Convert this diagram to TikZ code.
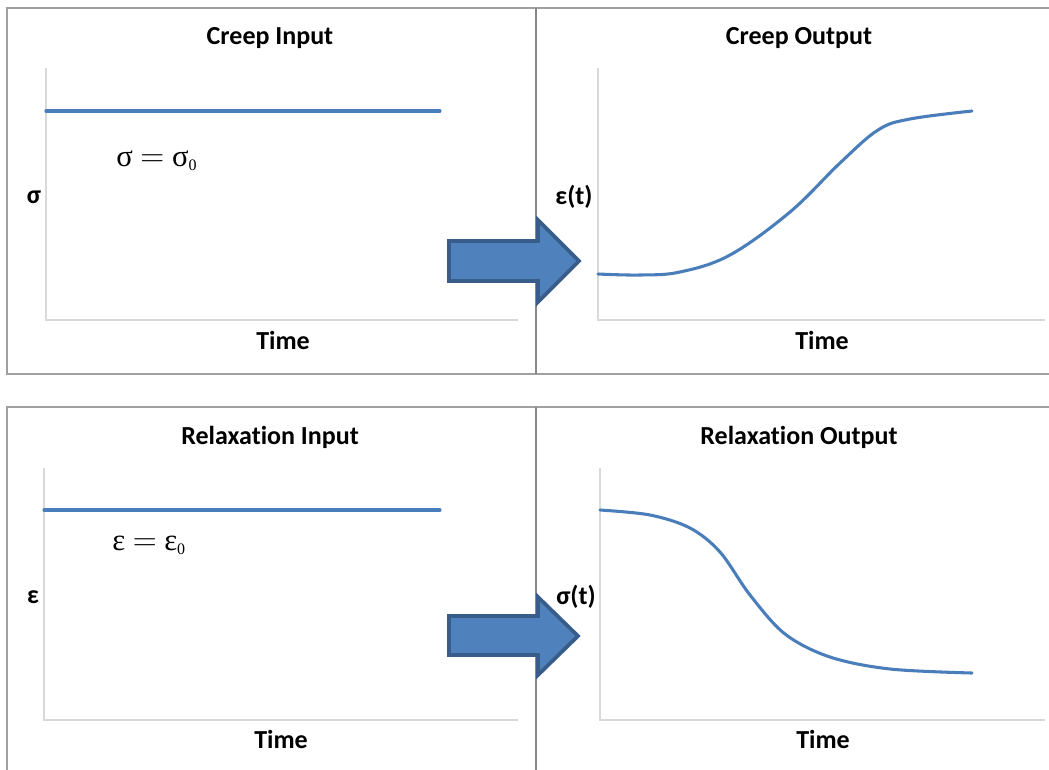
\documentclass[tikz,border=0pt]{standalone}
\usepackage{fontspec}
\setmainfont{Carlito}[Ligatures=NoCommon]
\newfontfamily\eqfont{Liberation Serif}
\definecolor{lineblue}{HTML}{4A7EBB}
\definecolor{arrowfill}{HTML}{4F81BD}
\definecolor{arrowline}{HTML}{385D8A}
\definecolor{panelgray}{HTML}{A0A0A0}
\definecolor{axisgray}{HTML}{D9D9D9}
\begin{document}
\begin{tikzpicture}[x=0.75pt,y=-0.75pt,
  panel/.style={draw=panelgray, line width=1.3pt},
  divider/.style={draw=panelgray!85!black, line width=2pt},
  axisline/.style={draw=axisgray, line width=1.2pt},
  curve/.style={draw=lineblue, line width=2.3pt, line cap=round, line join=round},
  titletext/.style={font=\fontsize{19.5}{23}\selectfont\bfseries, anchor=base, inner sep=0pt},
  labtext/.style={font=\fontsize{19.5}{23}\selectfont\bfseries, anchor=base, inner sep=0pt},
  eqtext/.style={font=\eqfont\fontsize{23}{27}\selectfont, anchor=base west, inner sep=0pt},
  bigarrow/.style={fill=arrowfill, draw=arrowline, line width=2.8pt, line join=miter}
]
\useasboundingbox (0,0) rectangle (1049,769);

% panel frames
\draw[panel] (1052,8) -- (7,8) -- (7,374) -- (1052,374);
\draw[divider] (536,8) -- (536,374);
\draw[panel] (1052,407) -- (7,407) -- (7,772);
\draw[divider] (536,407) -- (536,772);

% ---------- Creep input ----------
\draw[axisline] (46,68) -- (46,320) -- (518,320);
\draw[curve] (46,111) -- (440,111);
\node[titletext] (t1) at (270,44) {Creep Input};
\node[labtext] (y1) at (34,203) {σ};
\node[labtext] (x1) at (283,349) {Time};
\node[eqtext] (e1) at (116,166) {σ\kern0.25em$=$\kern0.25emσ\raisebox{-0.3ex}{\fontsize{12}{13}\selectfont 0}};

% ---------- Creep output ----------
\draw[axisline] (598,68) -- (598,320) -- (1045,320);
\draw[curve] plot[smooth, tension=0.6] coordinates {(598,274) (640,275) (680,272) (730,255) (790,212) (840,163) (878,130) (910,119) (972,111)};
\node[titletext] (t2) at (799,44) {Creep Output};
\node[labtext] (y2) at (574,204) {ε(t)};
\node[labtext] (x2) at (822,349) {Time};

% ---------- Relaxation input ----------
\draw[axisline] (44,468) -- (44,720) -- (518,720);
\draw[curve] (44,510) -- (440,510);
\node[titletext] (t3) at (270,444) {Relaxation Input};
\node[labtext] (y3) at (33,603) {ε};
\node[labtext] (x3) at (281,748) {Time};
\node[eqtext] (e3) at (112,550) {ε\kern0.25em$=$\kern0.25emε\raisebox{-0.3ex}{\fontsize{12}{13}\selectfont 0}};

% ---------- Relaxation output ----------
\draw[axisline] (600,468) -- (600,720) -- (1045,720);
\draw[curve] plot[smooth, tension=0.55] coordinates {(600,510) (650,515) (690,528) (720,552) (750,595) (785,634) (830,657) (890,669) (972,673)};
\node[titletext] (t4) at (799,444) {Relaxation Output};
\node[labtext] (y4) at (576,604) {σ(t)};
\node[labtext] (x4) at (823,748) {Time};

% ---------- block arrows ----------
\draw[bigarrow] (449,241) -- (538,241) -- (538,220) -- (579,261) -- (538,302) -- (538,281) -- (449,281) -- cycle;
\draw[bigarrow] (449,616) -- (538,616) -- (538,597) -- (578,636) -- (538,675) -- (538,655) -- (449,655) -- cycle;
\end{tikzpicture}
\end{document}
